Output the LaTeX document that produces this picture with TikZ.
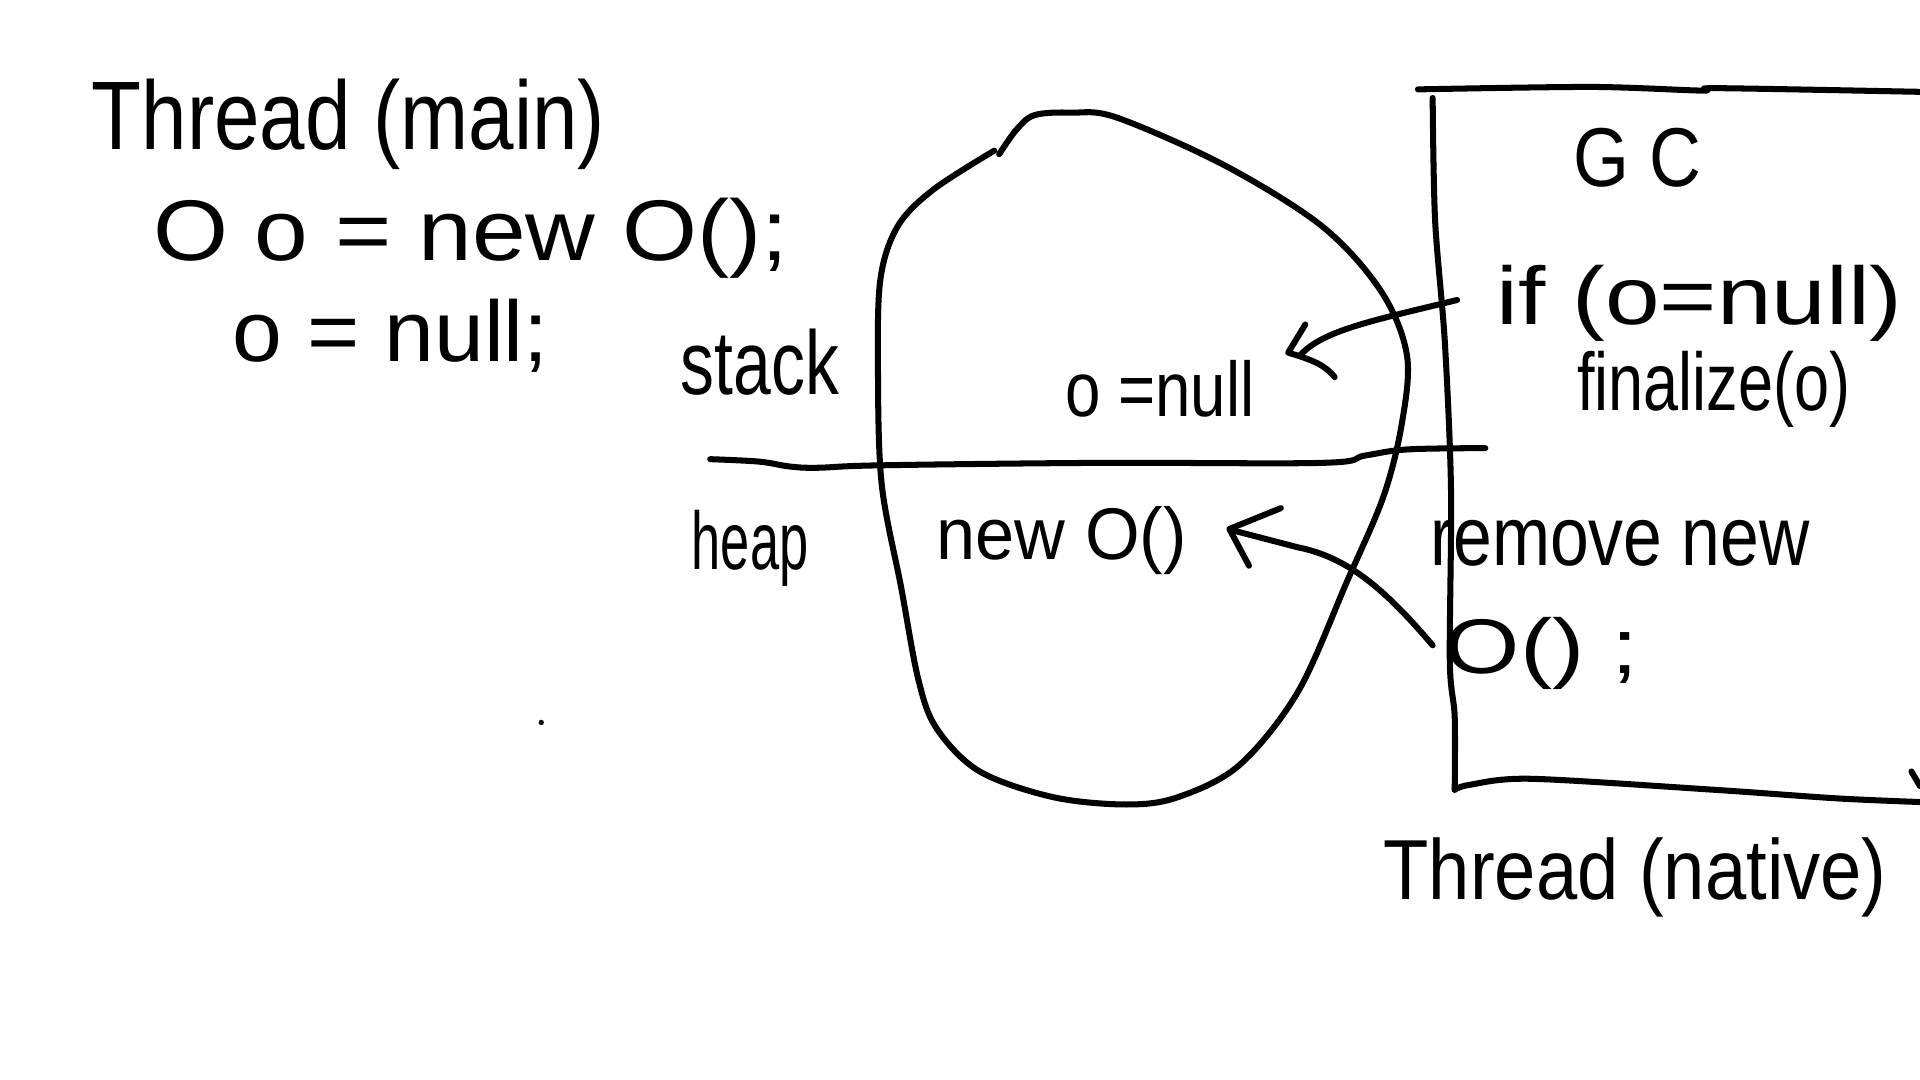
\documentclass[tikz,border=0pt]{standalone}
\usepackage{fontspec}
\setmainfont{Liberation Sans}
\usetikzlibrary{calc}
\newcommand{\hwtext}[3]{\fontsize{#1pt}{#1pt}\selectfont\scalebox{#2}[1]{#3}}
\begin{document}
\begin{tikzpicture}[x=0.01cm,y=-0.01cm,
  line width=1.4pt, line cap=round, line join=round,
  hw/.style={anchor=base west, inner sep=0pt, outer sep=0pt},
  stroke/.style={draw=black, line width=1.4pt}]
\fill[white] (0,0) rectangle (1568,882);
\useasboundingbox (0,0) rectangle (1568,882);

% ---- main thread code ----
\node[hw] (tmain) at (75,122) {\hwtext{22.6}{0.84}{Thread (main)}};
\node[hw] (decl)  at (125,213) {\hwtext{20}{1.12}{O o = new O();}};
\node[hw] (nullas) at (190,295) {\hwtext{20}{1.04}{o = null;}};
\fill (442,590) circle (2.2);

% ---- stack / heap ----
\node[hw] (stack) at (556,322) {\hwtext{21}{0.75}{stack}};
\node[hw] (heap)  at (565,465) {\hwtext{19}{0.64}{heap}};
\draw[stroke] plot[smooth, tension=0.6] coordinates {(580,375) (620,377) (645,381) (668,382) (720,380) (900,378) (1080,378) (1115,372) (1150,367) (1213,366)};

% ---- blob ----
\draw[stroke] plot[smooth, tension=0.55] coordinates {
 (816,126) (830,106) (845,94) (875,92) (912,96) (1000,135) (1080,185) (1128,238) (1149,290)
 (1145,345) (1130,405) (1100,475) (1060,565) (1012,625) (962,651) (920,657) (860,651)
 (800,630) (765,595) (750,555) (736,480) (720,395) (717,300) (719,228) (733,185) (762,155) (812,123)};

\node[hw] (onull) at (870,340) {\hwtext{18}{0.82}{o =null}};
\node[hw] (newo)  at (765,457) {\hwtext{17}{0.96}{new O()}};

% ---- GC box ----
\draw[stroke] plot[smooth, tension=0.5] coordinates {(1158,73) (1300,71) (1390,74) (1402,72) (1568,75)};
\draw[stroke] plot[smooth, tension=0.5] coordinates {(1170,80) (1172,180) (1180,280) (1185,400) (1184,540) (1188,585) (1188,645)};
\draw[stroke] plot[smooth, tension=0.5] coordinates {(1188,645) (1200,641) (1250,636) (1400,645) (1500,652) (1568,655)};
\draw[stroke] (1561,630) -- (1568,642);

\node[hw] (gc)    at (1285,152) {\hwtext{19.4}{0.86}{G C}};
\node[hw] (ifn)   at (1222,265) {\hwtext{19}{1.2}{if (o=null)}};
\node[hw] (fin)   at (1288,335) {\hwtext{19}{0.77}{finalize(o)}};
\node[hw] (rem)   at (1168,462) {\hwtext{19.5}{0.83}{remove new}};
\node[hw] (remo)  at (1180,550) {\hwtext{18}{1.25}{O() ;}};
\node[hw] (tnat)  at (1130,735) {\hwtext{19.8}{0.87}{Thread (native)}};

% ---- arrows ----
\coordinate (a1s) at (1190,245);
\coordinate (a1t) at (1052,288);
\draw[stroke] (a1s) .. controls (1120,262) and (1080,270) .. (1062,290);
\draw[stroke] ([shift={(14,-23)}]a1t) -- (a1t) .. controls ([shift={(20,6)}]a1t) and ([shift={(30,10)}]a1t) .. ([shift={(38,20)}]a1t);

\coordinate (a2s) at (1170,527);
\coordinate (a2t) at (1004,432);
\draw[stroke] (a2s) .. controls (1130,480) and (1100,455) .. (1060,447) -- (1010,434);
\draw[stroke] ([shift={(42,-17)}]a2t) -- (a2t) -- ([shift={(16,30)}]a2t);
\end{tikzpicture}
\end{document}
